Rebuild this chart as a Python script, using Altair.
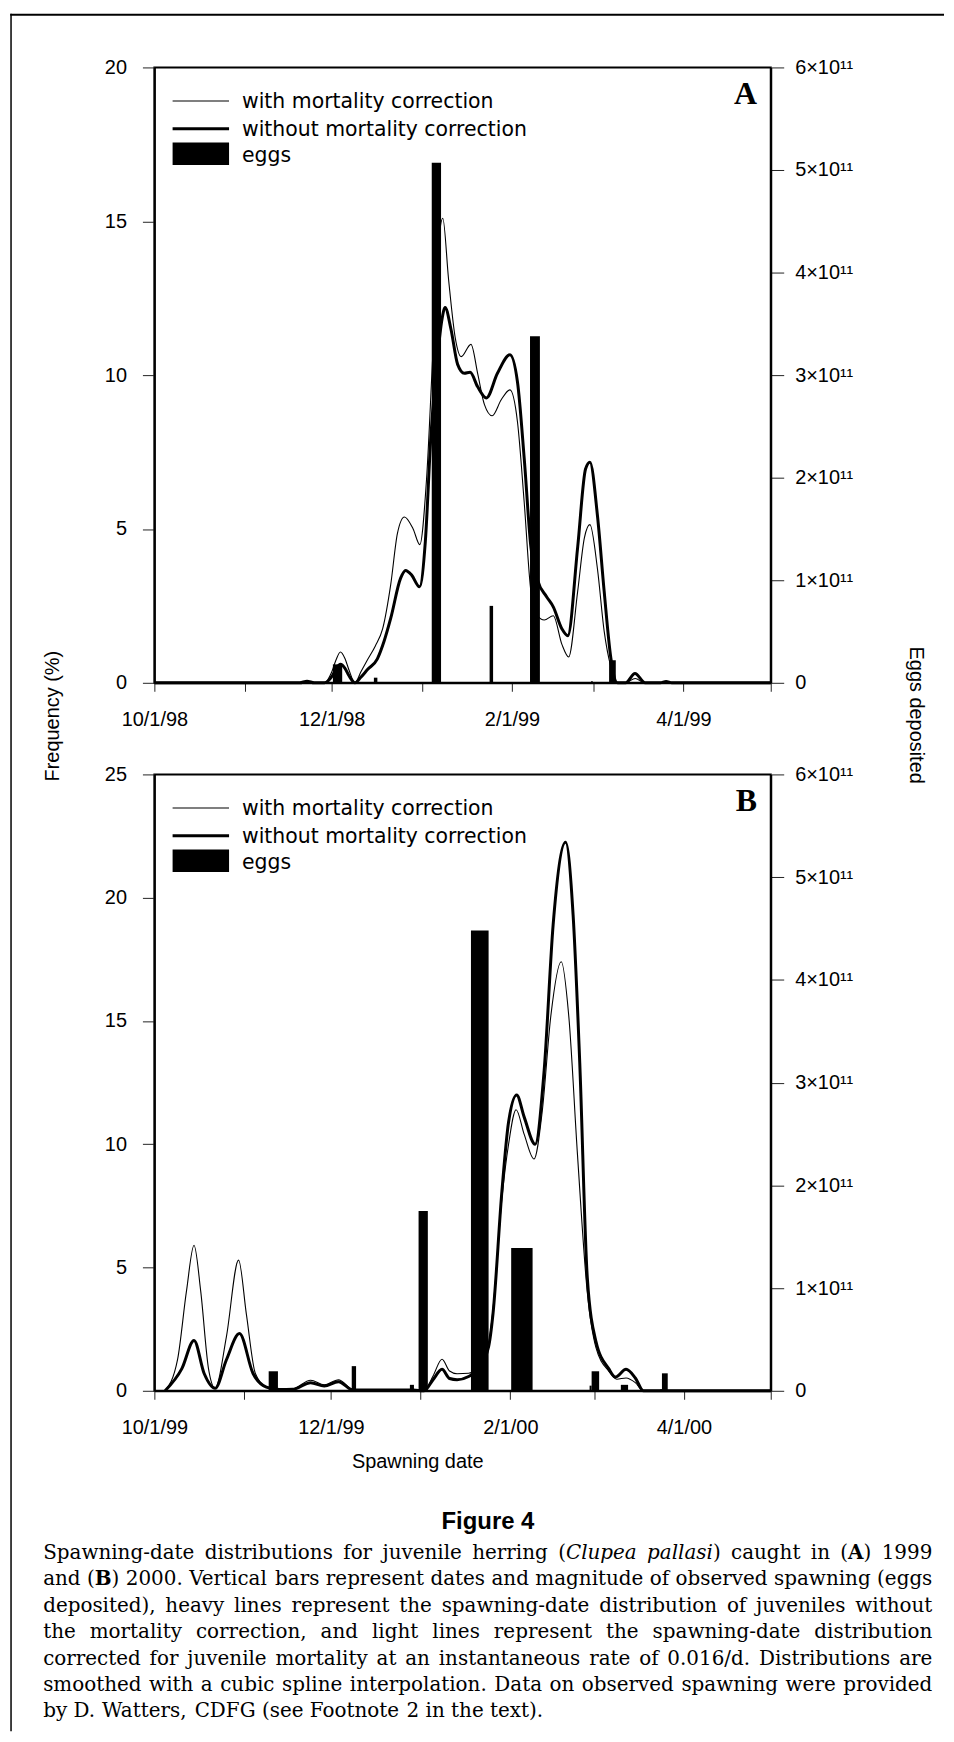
import os
import re
import struct

import altair as alt
import pandas as pd

# ---------------- values ----------------
# Panel A (juveniles caught in 1999); x = days after 1 Oct 1998
a_thin_day = [0, 50, 52.5, 55, 58.5, 61, 62.5, 64, 65.5, 67, 69, 71, 73.3, 76, 78.5,
              81.3, 83.6, 86, 89, 91.3, 93.6, 95.9, 98.2, 99.2, 101.2, 103.5, 105.5,
              108.9, 111.2, 113.5, 116.2, 119.3, 122.3, 124.9, 127.2, 129.5, 131.8,
              134.1, 137.2, 140.2, 142.5, 145.6, 147.9, 149.8, 152.4, 154.7, 157,
              159.3, 162, 165.4, 168.5, 174, 176, 178, 212]
a_thin_val = [0, 0, 0.05, 0, 0, 0.35, 0.75, 1.0, 0.8, 0.4, 0, 0.35, 0.75, 1.2, 1.75,
              3.2, 4.86, 5.39, 5.0, 4.49, 6.6, 10.9, 14.7, 15.1, 13.1, 11.2, 10.6,
              11.0, 10.05, 9.05, 8.68, 9.2, 9.52, 8.47, 5.87, 2.98, 2.18,
              2.04, 2.18, 1.24, 0.84, 2.98, 4.71, 5.14, 3.7, 1.68, 0.52,
              0, 0, 0.14, 0, 0, 0.04, 0, 0]
a_thick_day = [0, 50, 52.5, 55, 58.5, 61, 62.5, 64, 65.5, 67, 69, 71, 73.3, 76.7, 79,
               81.3, 84.7, 86.4, 88.5, 91.2, 93.2, 95.1, 97.4, 98.9, 100, 102, 104.3,
               106.6, 108.6, 111.2, 114.2, 118, 122.3, 124.9, 127.2, 129.5, 131.8,
               134.9, 137.2, 140.2, 142.2, 145.6, 148.3, 149.8, 152.4, 154.7, 157,
               159.3, 162.1, 165.3, 168.8, 174, 176, 178, 212]
a_thick_val = [0, 0, 0.05, 0, 0, 0.2, 0.45, 0.6, 0.48, 0.22, 0, 0.18, 0.43, 0.78, 1.35,
               2.1, 3.4, 3.65, 3.5, 3.12, 4.6, 8.0, 10.6, 11.8, 12.2, 11.5, 10.35,
               10.06, 10.09, 9.62, 9.26, 10.06, 10.66, 9.77, 7.3, 4.42, 3.34,
               2.8, 2.47, 1.75, 1.53, 4.42, 6.95, 7.17, 5.43, 2.98, 0.81,
               0, 0, 0.3, 0, 0, 0.04, 0, 0]
a_egg_start = [61.4, 75.5, 95.4, 115.3, 129.2, 150.2, 156.4]
a_egg_end = [64.6, 76.7, 98.6, 116.5, 132.6, 150.8, 158.7]
a_egg_val = [0.18e11, 0.05e11, 5.07e11, 0.75e11, 3.38e11, 0.016e11, 0.22e11]

# Panel B (juveniles caught in 2000); x = days after 1 Oct 1999
b_thin_day = [3.7, 8, 11.1, 13.7, 16, 18.7, 21, 24.9, 29.1, 31.8, 34.9, 38.7, 43.3,
              47.9, 54, 58.7, 63.6, 68.7, 75, 89.4, 93.2, 96.3, 99.4, 102, 104.6,
              108.6, 112, 115.5, 117, 120.1, 122.4, 125, 127.8, 131.2, 134, 137,
              140.6, 143.2, 146.2, 149.6, 152.6, 157, 159.8, 163, 166.2, 169, 213]
b_thin_val = [0, 1.26, 4.05, 5.9, 4.05, 0.9, 0.1, 2.2, 5.3, 3.1, 0.7, 0.15, 0.05,
              0.08, 0.43, 0.24, 0.45, 0.05, 0.04, 0.04, 0, 0.6, 1.28, 0.8, 0.69,
              0.71, 1.0, 1.9, 3.3, 7.8, 10.0, 11.4, 10.4, 9.4, 11.3, 15.2,
              17.4, 15.2, 9.6, 4.0, 1.75, 0.8, 0.47, 0.52, 0.33, 0, 0]
b_thick_day = [3.7, 9.5, 13.7, 17.2, 21, 24.9, 29.4, 34.1, 38.7, 43.3, 47.9, 54, 58.7,
               63.6, 68.7, 75, 89.4, 93.2, 96.3, 99.4, 102, 104.6, 108.6, 112, 115.5,
               117, 120.1, 122.4, 125.2, 127.8, 131.6, 134.7, 137.8, 142.1, 144.7,
               147, 149.6, 152.6, 157, 159.3, 163, 166.2, 169, 213]
b_thick_val = [0, 0.9, 2.04, 0.7, 0.1, 1.26, 2.32, 0.7, 0.15, 0.05, 0.06, 0.33, 0.19,
               0.37, 0.03, 0.03, 0.03, 0, 0.45, 0.87, 0.5, 0.45, 0.58, 0.9, 1.79,
               3.1, 8.1, 10.9, 12.0, 11.1, 10.0, 13.0, 18.9, 22.25, 19.3,
               13.3, 4.6, 2.0, 0.9, 0.56, 0.87, 0.52, 0, 0]
b_egg_start = [39.5, 68.2, 88.3, 91.3, 109.4, 123.3, 150.4, 151.1, 161.2, 174.8, 175.4]
b_egg_end = [42.7, 69.7, 89.7, 94.5, 115.5, 130.7, 151.1, 153.7, 163.7, 175.4, 177.4]
b_egg_val = [0.19e11, 0.24e11, 0.058e11, 1.75e11, 4.48e11, 1.39e11, 0.05e11,
             0.19e11, 0.058e11, 0.015e11, 0.17e11]

# axes
a_tick_days = [0, 31, 61, 92, 123, 151, 182, 212]
a_tick_labels = ["10/1/98", "", "12/1/98", "", "2/1/99", "", "4/1/99", ""]
b_tick_days = [0, 31, 61, 92, 123, 152, 183, 213]
b_tick_labels = ["10/1/99", "", "12/1/99", "", "2/1/00", "", "4/1/00", ""]
a_freq_ticks = [0, 5, 10, 15, 20]
b_freq_ticks = [0, 5, 10, 15, 20, 25]
egg_ticks = [0, 1e11, 2e11, 3e11, 4e11, 5e11, 6e11]

series_names = ["with mortality correction", "without mortality correction"]
legend_labels = series_names + ["eggs"]

caption_title = "Figure 4"
# *...* = italic, **...** = bold
caption_lines = [
    "Spawning-date distributions for juvenile herring (*Clupea pallasi*) caught in (**A**) 1999",
    "and (**B**) 2000. Vertical bars represent dates and magnitude of observed spawning (eggs",
    "deposited), heavy lines represent the spawning-date distribution of juveniles without",
    "the mortality correction, and light lines represent the spawning-date distribution",
    "corrected for juvenile mortality at an instantaneous rate of 0.016/d. Distributions are",
    "smoothed with a cubic spline interpolation. Data on observed spawning were provided",
    "by D. Watters, CDFG (see Footnote 2 in the text).",
]

# ---------------- styling ----------------
SANS = "Liberation Sans"
LEG_FONT = "DejaVu Sans"
SERIF = "DejaVu Serif"
W = 619
one = pd.DataFrame({"k": [0]})


def x_label_expr(days, labels):
    d = "[" + ",".join(str(v) for v in days) + "]"
    lab = "[" + ",".join("'" + s + "'" for s in labels) + "]"
    return f"indexof({d}, datum.value) >= 0 ? {lab}[indexof({d}, datum.value)] : ''"


egg_label_expr = ("datum.value == 0 ? '\u00a0\u00a0\u00a00' : "
                  "format(datum.value / 1e11, 'd') + '\u00d710\u00b9\u00b9'")


def make_panel(thin_day, thin_val, thick_day, thick_val, es, ee, ev,
               xmax, xticks, xlabels, ymax, yticks, letter, h, first, extras):
    lines_df = pd.concat([
        pd.DataFrame({"day": thin_day, "freq": thin_val, "series": series_names[0]}),
        pd.DataFrame({"day": thick_day, "freq": thick_val, "series": series_names[1]}),
    ])
    eggs_df = pd.DataFrame({"start": es, "end": ee, "eggs": ev, "base": 0.0})
    xscale = alt.Scale(domain=[0, xmax], nice=False, zero=False)
    xkw = dict(values=xticks, labelExpr=x_label_expr(xticks, xlabels), labelFlush=False,
               labelOverlap=False, tickSize=8.5, labelPadding=18, labelAngle=0)
    if first:
        xkw["title"] = None
    else:
        xkw.update(title="Spawning date", titleX=264, titleY=71, titleAlign="center",
                   titleBaseline="middle")
    xaxis = alt.Axis(**xkw)
    lkw = dict(orient="left", values=yticks, format="d", tickSize=12, labelPadding=16)
    rkw = dict(orient="right", values=egg_ticks, labelExpr=egg_label_expr, tickSize=13,
               labelPadding=11, labelAlign="left")
    if first:
        lkw.update(title="Frequency (%)", titleX=-102.7, titleY=651, titleAngle=270,
                   titleAlign="center", titleBaseline="middle")
        rkw.update(title="Eggs deposited", titleX=145, titleY=650, titleAngle=90,
                   titleAlign="center", titleBaseline="middle")
    else:
        lkw["title"] = None
        rkw["title"] = None

    lines = alt.Chart(lines_df).mark_line(interpolate="monotone", color="black").encode(
        x=alt.X("day:Q", scale=xscale, axis=xaxis),
        y=alt.Y("freq:Q", scale=alt.Scale(domain=[0, ymax], nice=False), axis=alt.Axis(**lkw)),
        strokeWidth=alt.StrokeWidth("series:N",
                                    scale=alt.Scale(domain=series_names, range=[1.1, 3.0]),
                                    legend=None),
    )
    bars = alt.Chart(eggs_df).mark_rect(color="black").encode(
        x=alt.X("start:Q", scale=xscale, axis=xaxis),
        x2="end:Q",
        y=alt.Y("eggs:Q", scale=alt.Scale(domain=[0, 6e11], nice=False), axis=alt.Axis(**rkw)),
        y2="base:Q",
    )
    thin_rule = alt.Chart(one).mark_rule(color="black", strokeWidth=1.1).encode(
        x=alt.value(18.3), x2=alt.value(75), y=alt.value(33.7))
    thick_rule = alt.Chart(one).mark_rule(color="black", strokeWidth=3).encode(
        x=alt.value(18.3), x2=alt.value(75), y=alt.value(61.5))
    box = alt.Chart(one).mark_rect(color="black").encode(
        x=alt.value(18.3), x2=alt.value(75), y=alt.value(75.3), y2=alt.value(98))
    leg_df = pd.DataFrame({"label": legend_labels, "py": [40.3, 68.7, 94.7]})
    leg_text = alt.Chart(leg_df).mark_text(
        align="left", baseline="alphabetic", font=LEG_FONT, fontSize=20.5, color="black"
    ).encode(x=alt.value(88), y=alt.Y("py:Q", scale=None), text="label:N")
    letter_mark = alt.Chart(one).mark_text(
        align="right", baseline="alphabetic", font="Liberation Serif", fontWeight="bold",
        fontSize=32, color="black").encode(x=alt.value(605.3), y=alt.value(36.3),
                                           text=alt.value(letter))
    return alt.layer(lines, bars, thin_rule, thick_rule, box, leg_text, letter_mark,
                     *extras).resolve_scale(y="independent").properties(width=W, height=h)


# ---------------- font metrics for a justified caption ----------------
def find_font_file(fname):
    roots = ["/usr/share/fonts", "/usr/local/share/fonts",
             os.path.expanduser("~/.fonts"), os.path.expanduser("~/.local/share/fonts")]
    for r in roots:
        if not os.path.isdir(r):
            continue
        for dp, _dn, fns in os.walk(r):
            if fname in fns:
                return os.path.join(dp, fname)
    return None


class FontMetrics:
    def __init__(self, path):
        self.ok = False
        self.cache = {}
        if not path:
            return
        try:
            with open(path, "rb") as f:
                d = f.read()
            self.d = d
            n = struct.unpack(">H", d[4:6])[0]
            t = {}
            for i in range(n):
                tag, _c, off, _l = struct.unpack(">4sIII", d[12 + 16 * i: 28 + 16 * i])
                t[tag] = off
            self.upem = struct.unpack(">H", d[t[b"head"] + 18: t[b"head"] + 20])[0]
            nhm = struct.unpack(">H", d[t[b"hhea"] + 34: t[b"hhea"] + 36])[0]
            hm = t[b"hmtx"]
            self.adv = [struct.unpack(">H", d[hm + 4 * i: hm + 4 * i + 2])[0]
                        for i in range(nhm)]
            c = t[b"cmap"]
            nsub = struct.unpack(">H", d[c + 2: c + 4])[0]
            self.seg = None
            for i in range(nsub):
                pid, eid, off = struct.unpack(">HHI", d[c + 4 + 8 * i: c + 12 + 8 * i])
                o = c + off
                fmt = struct.unpack(">H", d[o: o + 2])[0]
                if fmt == 4 and (pid == 0 or (pid == 3 and eid == 1)):
                    self.seg = o
                    break
            self.ok = self.seg is not None
        except Exception:
            self.ok = False

    def _u16(self, a):
        return struct.unpack(">H", self.d[a: a + 2])[0]

    def _glyph(self, code):
        o = self.seg
        segx2 = self._u16(o + 6)
        ends = o + 14
        starts = ends + segx2 + 2
        deltas = starts + segx2
        ranges = deltas + segx2
        for s in range(segx2 // 2):
            if code > self._u16(ends + 2 * s):
                continue
            start = self._u16(starts + 2 * s)
            if code < start:
                return 0
            delta = self._u16(deltas + 2 * s)
            ro = self._u16(ranges + 2 * s)
            if ro == 0:
                return (code + delta) & 0xFFFF
            g = self._u16(ranges + 2 * s + ro + 2 * (code - start))
            return (g + delta) & 0xFFFF if g else 0
        return 0

    def em(self, text):
        tot = 0.0
        for ch in text:
            if ch not in self.cache:
                if self.ok:
                    g = self._glyph(ord(ch))
                    a = self.adv[g] if g < len(self.adv) else self.adv[-1]
                    self.cache[ch] = a / self.upem
                else:
                    self.cache[ch] = 0.32 if ch == " " else 0.56
            tot += self.cache[ch]
        return tot


reg = FontMetrics(find_font_file("DejaVuSerif.ttf"))
bold = FontMetrics(find_font_file("DejaVuSerif-Bold.ttf"))
ital = FontMetrics(find_font_file("DejaVuSerif-Italic.ttf"))
if not bold.ok:
    bold = reg
if not ital.ok:
    ital = reg
metrics = {"normal": reg, "bold": bold, "italic": ital}


def parse_words(line):
    runs = []
    for part in re.split(r"(\*\*[^*]+\*\*|\*[^*]+\*)", line):
        if not part:
            continue
        if part.startswith("**"):
            runs.append((part[2:-2], "bold"))
        elif part.startswith("*"):
            runs.append((part[1:-1], "italic"))
        else:
            runs.append((part, "normal"))
    words = [[]]
    for text, st in runs:
        for k, p in enumerate(text.split(" ")):
            if k > 0:
                words.append([])
            if p:
                words[-1].append((p, st))
    return [w for w in words if w]


def word_em(word):
    return sum(metrics[st].em(p) for p, st in word)


# caption geometry, in panel-B coordinates
LEFT, RIGHT = -111.7, 781.3
BASE0, LEAD = 788.0, 26.5
LINE_W = RIGHT - LEFT
space_em = reg.em(" ")
parsed = [parse_words(l) for l in caption_lines]
nat_sizes = []
for words in parsed[:-1]:
    tot = sum(word_em(w) for w in words) + space_em * (len(words) - 1)
    nat_sizes.append(LINE_W / tot)
cap_fs = min(20.0, min(nat_sizes))

pieces = []
for i, words in enumerate(parsed):
    y = BASE0 + LEAD * i
    wsum = sum(word_em(w) for w in words) * cap_fs
    if i < len(parsed) - 1 and len(words) > 1:
        gap = (LINE_W - wsum) / (len(words) - 1)
    else:
        gap = space_em * cap_fs
    x = LEFT
    for w in words:
        for p, st in w:
            pieces.append((p, x, y, st))
            x += metrics[st].em(p) * cap_fs
        x += gap

cap_df = pd.DataFrame(pieces, columns=["text", "px", "py", "style"])
caption_layers = []
for st, g in cap_df.groupby("style"):
    kw = dict(align="left", baseline="alphabetic", font=SERIF, fontSize=cap_fs, color="black")
    if st == "italic":
        kw["fontStyle"] = "italic"
    if st == "bold":
        kw["fontWeight"] = "bold"
    caption_layers.append(
        alt.Chart(g.reset_index(drop=True)).mark_text(**kw).encode(
            x=alt.X("px:Q", scale=None), y=alt.Y("py:Q", scale=None), text="text:N"))

fig_title = alt.Chart(one).mark_text(
    align="center", baseline="alphabetic", font=SANS, fontWeight="bold", fontSize=24,
    color="black").encode(x=alt.value(335), y=alt.value(757.3), text=alt.value(caption_title))
border_left = alt.Chart(one).mark_rule(color="black", strokeWidth=1.5).encode(
    x=alt.value(-143.95), y=alt.value(-764), y2=alt.value(961))
border_top = alt.Chart(one).mark_rule(color="black", strokeWidth=2).encode(
    x=alt.value(-144.7), x2=alt.value(793), y=alt.value(-763))

panel_a = make_panel(a_thin_day, a_thin_val, a_thick_day, a_thick_val,
                     a_egg_start, a_egg_end, a_egg_val, 212, a_tick_days, a_tick_labels,
                     20, a_freq_ticks, "A", 618, True, [])
panel_b = make_panel(b_thin_day, b_thin_val, b_thick_day, b_thick_val,
                     b_egg_start, b_egg_end, b_egg_val, 213, b_tick_days, b_tick_labels,
                     25, b_freq_ticks, "B", 619, False,
                     [border_left, border_top, fig_title] + caption_layers)

chart = alt.vconcat(panel_a, panel_b, spacing=92, bounds="flush").properties(
    padding=0, background="white"
).configure_view(stroke="black", strokeWidth=2).configure_axis(
    domainColor="black", domainWidth=2, tickColor="#222", tickWidth=1,
    labelFont=SANS, labelFontSize=20, labelColor="black", grid=False,
    titleFont=SANS, titleFontSize=20, titleFontWeight="normal", titleColor="black",
)

chart.save("out.html", embed_options={"renderer": "svg", "actions": False})
